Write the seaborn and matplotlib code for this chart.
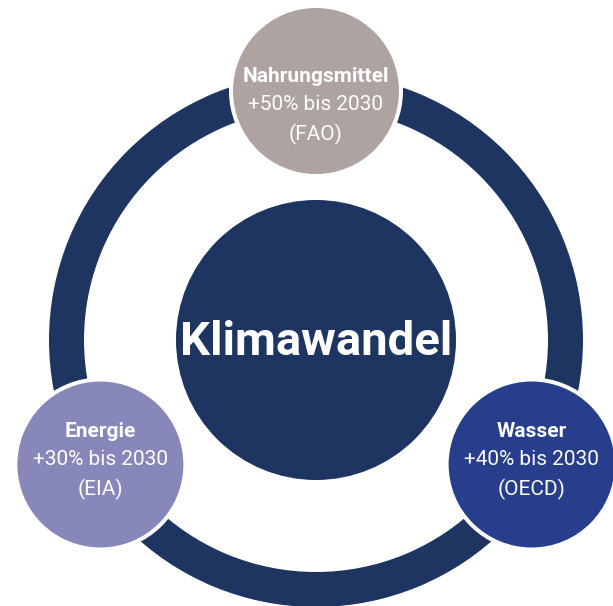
import matplotlib
matplotlib.use("Agg")
import numpy as np
import seaborn as sns
import matplotlib.pyplot as plt
from matplotlib.patches import Circle, Wedge

# Data
center_label = "Klimawandel"
topics = ["Nahrungsmittel", "Energie", "Wasser"]
growth_pct = [50, 30, 40]
target_year = 2030
sources = ["FAO", "EIA", "OECD"]
angles_deg = [90, 210, 330]
topic_colors = ["#ada3a0", "#8787b9", "#263e8c"]
navy = "#1e3461"

sns.set_theme(style="white")
plt.rcParams["font.family"] = ["Roboto", "DejaVu Sans"]

fig = plt.figure(figsize=(6.13, 6.06), dpi=100)
ax = fig.add_axes([0, 0, 1, 1])
ax.set_xlim(0, 613)
ax.set_ylim(606, 0)
ax.set_aspect("equal")
ax.axis("off")

cx, cy = 316, 340

# outer ring
ax.add_patch(Wedge((cx, cy), 267, 0, 360, width=35, color=navy, lw=0))

# center circle
ax.add_patch(Circle((cx, cy), 140, color=navy, lw=0))
ax.text(cx, cy + 2, center_label, color="white", fontsize=34, fontweight="bold",
        ha="center", va="center")

# topic circles on the ring
orbit = 249
for name, pct, src, ang, col in zip(topics, growth_pct, sources, angles_deg, topic_colors):
    px = cx + orbit * np.cos(np.radians(ang))
    py = cy - orbit * np.sin(np.radians(ang))
    ax.add_patch(Circle((px, py), 87, color="white", lw=0))
    ax.add_patch(Circle((px, py), 83, color=col, lw=0))
    off = 13 if ang == 90 else -5
    ax.text(px, py + off - 28, name, color="white", fontsize=15, fontweight="bold",
            ha="center", va="center")
    ax.text(px, py + off, f"+{pct}% bis {target_year}", color="white", fontsize=15,
            ha="center", va="center")
    ax.text(px, py + off + 30, f"({src})", color="white", fontsize=15,
            ha="center", va="center")

fig.savefig("out.png", dpi=100)
